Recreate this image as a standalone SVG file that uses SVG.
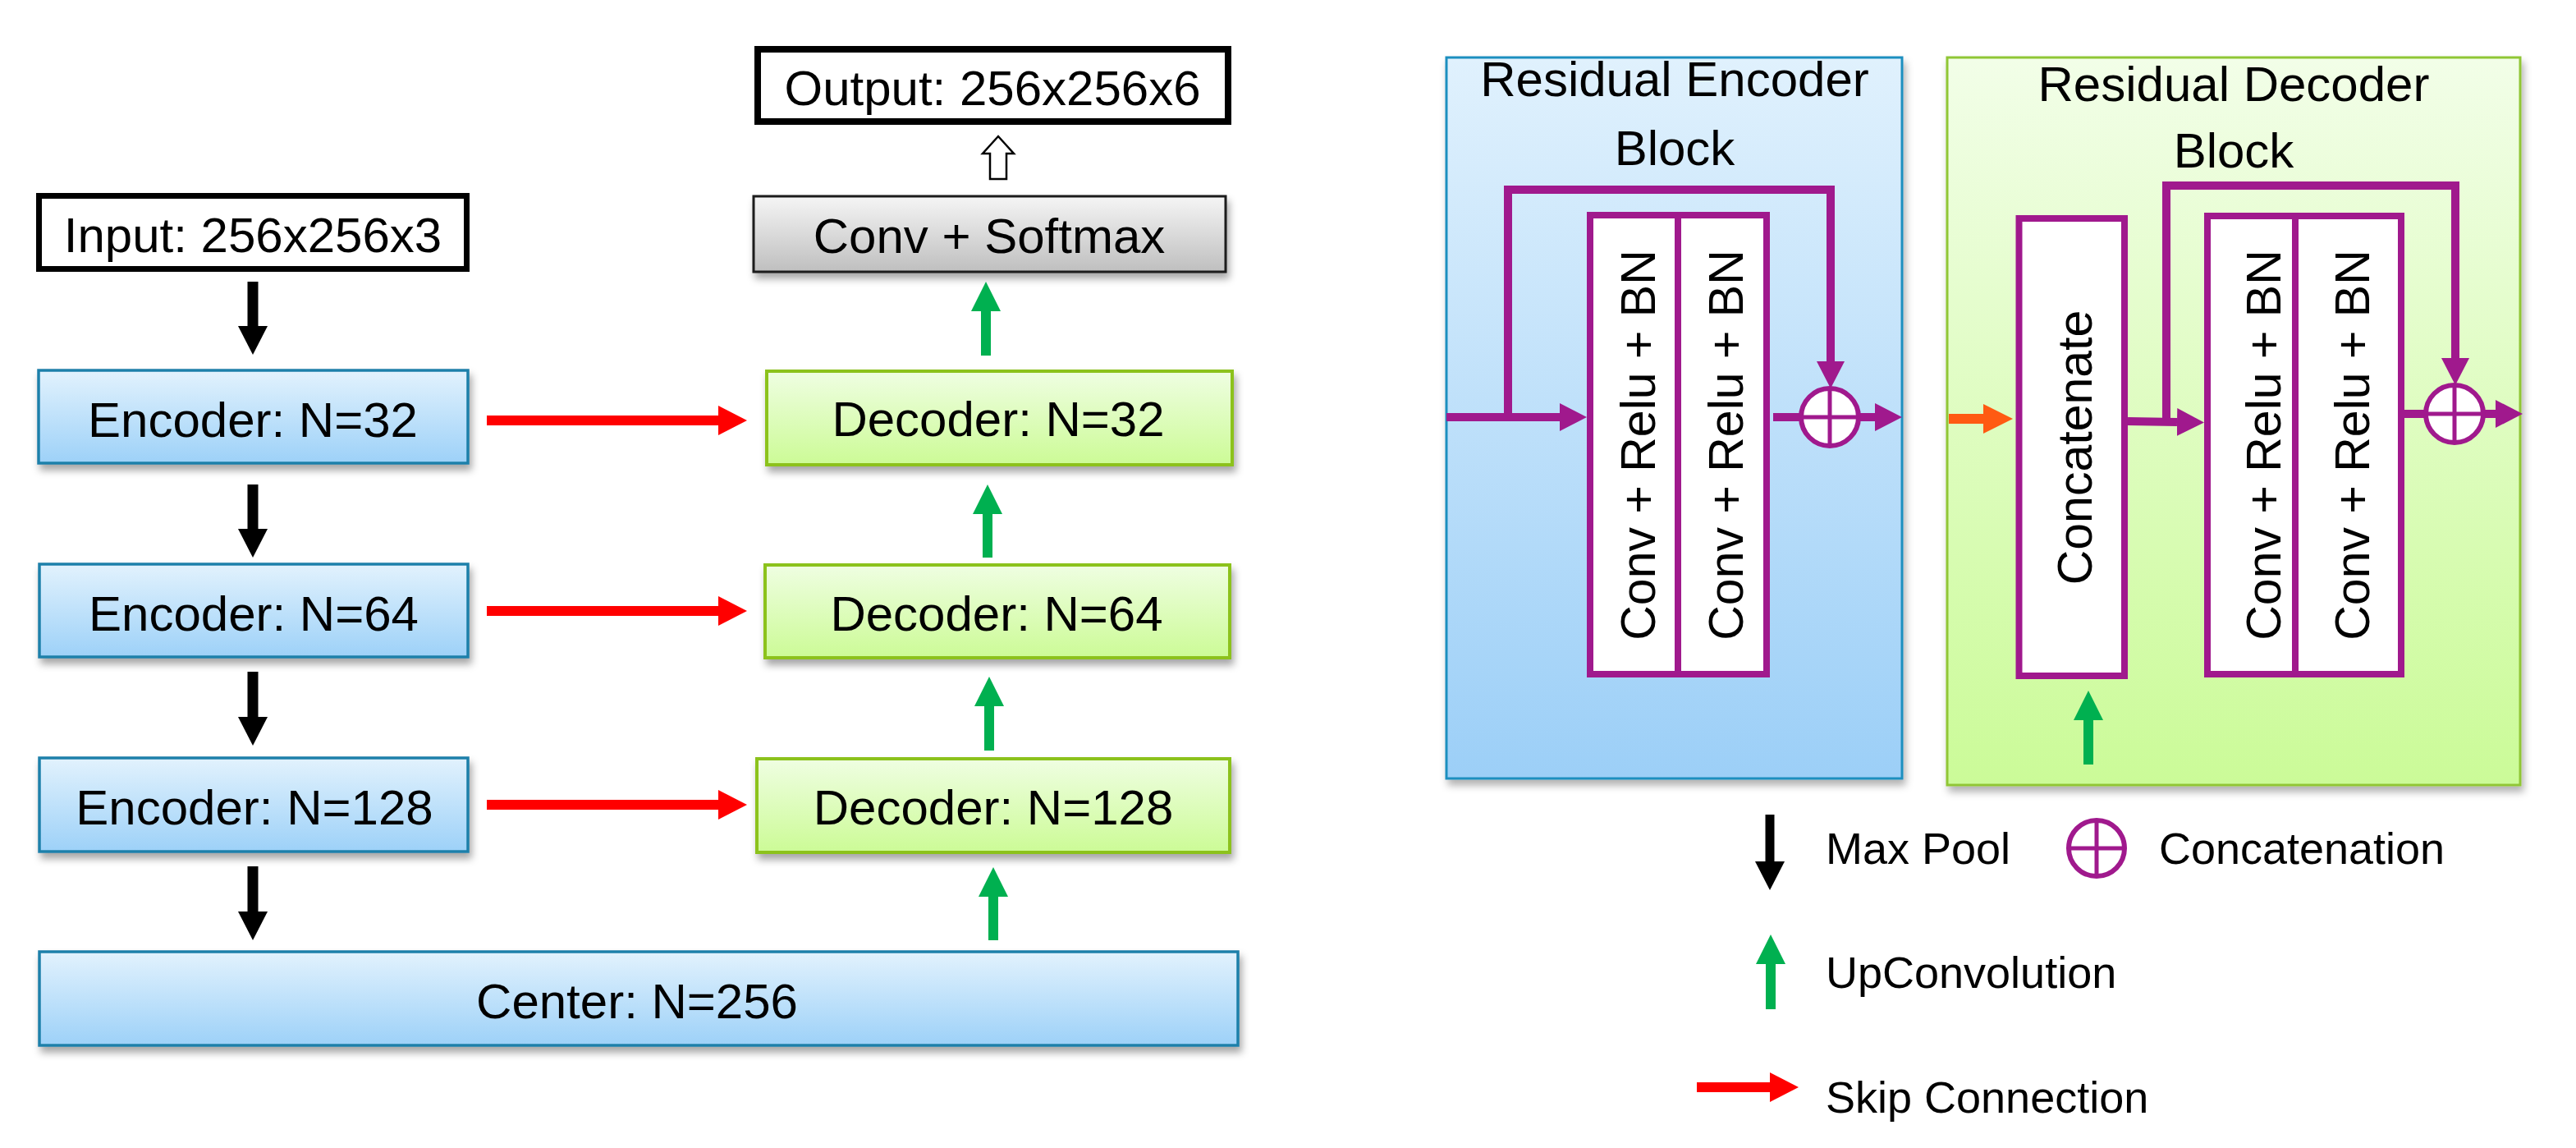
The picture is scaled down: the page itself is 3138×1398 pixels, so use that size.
<svg xmlns="http://www.w3.org/2000/svg" width="3138" height="1398" viewBox="0 0 3138 1398">
<defs>
<style>
text{font-family:"Liberation Sans",Arial,sans-serif;fill:#000}
.lbl{font-size:60px;text-anchor:middle}
.leg{font-size:54px}
.rot{font-size:59px;text-anchor:middle}
.enc{fill:url(#gEnc);stroke:#1f80aa;stroke-width:3.5}
.dec{fill:url(#gDec);stroke:#8cc21e;stroke-width:4}
.io{fill:#fff;stroke:#000}
.pbox{fill:#fff;stroke:#a0198d;stroke-width:8}
.pl{fill:none;stroke:#a0198d;stroke-width:10}
.circ{fill:#fff;stroke:#a0198d;stroke-width:6}
.cross{stroke:#a0198d;stroke-width:5}
.red{stroke:#ff0000;stroke-width:12;fill:none}
.grn{stroke:#00b050;stroke-width:12;fill:none}
.blk{stroke:#000;stroke-width:13;fill:none}
</style>
<linearGradient id="gEnc" x1="0" y1="0" x2="0" y2="1"><stop offset="0" stop-color="#e2f2fd"/><stop offset="1" stop-color="#9dd1f8"/></linearGradient>
<linearGradient id="gDec" x1="0" y1="0" x2="0" y2="1"><stop offset="0" stop-color="#effee2"/><stop offset="1" stop-color="#ccfb96"/></linearGradient>
<linearGradient id="gGray" x1="0" y1="0" x2="0" y2="1"><stop offset="0" stop-color="#f5f5f5"/><stop offset="1" stop-color="#bfbfbf"/></linearGradient>
<linearGradient id="gREnc" x1="0" y1="0" x2="0" y2="1"><stop offset="0" stop-color="#e0f1fd"/><stop offset="1" stop-color="#9ccff7"/></linearGradient>
<linearGradient id="gRDec" x1="0" y1="0" x2="0" y2="1"><stop offset="0" stop-color="#f2fee8"/><stop offset="1" stop-color="#cbfb98"/></linearGradient>
<filter id="shadow" x="-5%" y="-10%" width="112%" height="135%"><feDropShadow dx="3" dy="7" stdDeviation="5" flood-color="#000" flood-opacity="0.35"/></filter>
<filter id="shadowBig" x="-3%" y="-3%" width="108%" height="106%"><feDropShadow dx="3" dy="7" stdDeviation="5" flood-color="#000" flood-opacity="0.3"/></filter>
<marker id="mkBlack" markerUnits="userSpaceOnUse" markerWidth="40" markerHeight="40" viewBox="0 -20 40 40" refX="0" refY="0" orient="auto"><path d="M0,-18 L35,0 L0,18 Z" fill="#000"/></marker>
<marker id="mkGreen" markerUnits="userSpaceOnUse" markerWidth="40" markerHeight="40" viewBox="0 -20 40 40" refX="0" refY="0" orient="auto"><path d="M0,-18 L36,0 L0,18 Z" fill="#00b050"/></marker>
<marker id="mkRed" markerUnits="userSpaceOnUse" markerWidth="40" markerHeight="40" viewBox="0 -20 40 40" refX="0" refY="0" orient="auto"><path d="M0,-18 L35,0 L0,18 Z" fill="#ff0000"/></marker>
<marker id="mkPurple" markerUnits="userSpaceOnUse" markerWidth="40" markerHeight="40" viewBox="0 -20 40 40" refX="0" refY="0" orient="auto"><path d="M0,-17 L33,0 L0,17 Z" fill="#a0198d"/></marker>
<marker id="mkOrange" markerUnits="userSpaceOnUse" markerWidth="40" markerHeight="40" viewBox="0 -20 40 40" refX="0" refY="0" orient="auto"><path d="M0,-18 L36,0 L0,18 Z" fill="#ff5a12"/></marker>
</defs>
<rect width="3138" height="1398" fill="#fff"/>

<!-- Left network -->
<g id="input"><rect class="io" x="47.5" y="238.5" width="521" height="89" stroke-width="7"/><text class="lbl" x="308" y="307">Input: 256x256x3</text></g>
<g id="output"><rect class="io" x="923" y="60" width="573" height="88" stroke-width="8"/><text class="lbl" x="1209" y="128">Output: 256x256x6</text></g>
<g id="conv-softmax"><rect x="918" y="239" width="575" height="92" fill="url(#gGray)" stroke="#1a1a1a" stroke-width="3" filter="url(#shadow)"/><text class="lbl" x="1205" y="308">Conv + Softmax</text></g>
<g id="enc32"><rect class="enc" x="47" y="451" width="523" height="113" filter="url(#shadow)"/><text class="lbl" x="308" y="532">Encoder: N=32</text></g>
<g id="enc64"><rect class="enc" x="48" y="687" width="522" height="113" filter="url(#shadow)"/><text class="lbl" x="309" y="768">Encoder: N=64</text></g>
<g id="enc128"><rect class="enc" x="48" y="923" width="522" height="114" filter="url(#shadow)"/><text class="lbl" x="310" y="1004">Encoder: N=128</text></g>
<g id="center"><rect class="enc" x="48" y="1159" width="1460" height="114" filter="url(#shadow)"/><text class="lbl" x="776" y="1240">Center: N=256</text></g>
<g id="dec32"><rect class="dec" x="934" y="452" width="567" height="114" filter="url(#shadow)"/><text class="lbl" x="1216" y="531">Decoder: N=32</text></g>
<g id="dec64"><rect class="dec" x="932" y="688" width="566" height="113" filter="url(#shadow)"/><text class="lbl" x="1214" y="768">Decoder: N=64</text></g>
<g id="dec128"><rect class="dec" x="922" y="924" width="576" height="114" filter="url(#shadow)"/><text class="lbl" x="1210" y="1004">Decoder: N=128</text></g>

<!-- Residual Encoder Block -->
<g id="res-encoder">
<rect x="1762" y="70" width="555" height="878" fill="url(#gREnc)" stroke="#1e8fbf" stroke-width="3" filter="url(#shadowBig)"/>
<text class="lbl" x="2040" y="117">Residual Encoder</text>
<text class="lbl" x="2040" y="201">Block</text>
<rect class="pbox" x="1937" y="262" width="215" height="559"/>
<line x1="2044" y1="262" x2="2044" y2="821" stroke="#a0198d" stroke-width="8"/>
<text class="rot" transform="translate(2016,542) rotate(-90)">Conv + Relu + BN</text>
<text class="rot" transform="translate(2123,542) rotate(-90)">Conv + Relu + BN</text>
</g>

<!-- Residual Decoder Block -->
<g id="res-decoder">
<rect x="2372" y="70" width="698" height="886" fill="url(#gRDec)" stroke="#90c636" stroke-width="3" filter="url(#shadowBig)"/>
<text class="lbl" x="2721" y="123">Residual Decoder</text>
<text class="lbl" x="2721" y="204">Block</text>
<rect class="pbox" x="2459.5" y="266" width="128.5" height="557"/>
<text class="rot" transform="translate(2548,545) rotate(-90)">Concatenate</text>
<rect class="pbox" x="2689" y="263" width="236" height="558"/>
<line x1="2796" y1="263" x2="2796" y2="821" stroke="#a0198d" stroke-width="8"/>
<text class="rot" transform="translate(2778,542) rotate(-90)">Conv + Relu + BN</text>
<text class="rot" transform="translate(2886,542) rotate(-90)">Conv + Relu + BN</text>
</g>

<g id="connectors">
<!-- max pool -->
<line class="blk" x1="308" y1="343" x2="308" y2="397" marker-end="url(#mkBlack)"/>
<line class="blk" x1="308" y1="590" x2="308" y2="644" marker-end="url(#mkBlack)"/>
<line class="blk" x1="308" y1="818" x2="308" y2="873" marker-end="url(#mkBlack)"/>
<line class="blk" x1="308" y1="1055" x2="308" y2="1110" marker-end="url(#mkBlack)"/>
<!-- skip -->
<line class="red" x1="593" y1="512" x2="875" y2="512" marker-end="url(#mkRed)"/>
<line class="red" x1="593" y1="744" x2="875" y2="744" marker-end="url(#mkRed)"/>
<line class="red" x1="593" y1="980" x2="875" y2="980" marker-end="url(#mkRed)"/>
<!-- upconv -->
<line class="grn" x1="1201" y1="433" x2="1201" y2="379" marker-end="url(#mkGreen)"/>
<line class="grn" x1="1203" y1="679" x2="1203" y2="626" marker-end="url(#mkGreen)"/>
<line class="grn" x1="1205" y1="914" x2="1205" y2="860" marker-end="url(#mkGreen)"/>
<line class="grn" x1="1210" y1="1145" x2="1210" y2="1092" marker-end="url(#mkGreen)"/>
<!-- hollow arrow to output -->
<polygon points="1216,166 1235,187 1226,187 1226,218 1206,218 1206,187 1197,187" fill="#fff" stroke="#000" stroke-width="2.5" stroke-linejoin="miter"/>

<!-- residual encoder internals -->
<line class="pl" x1="1762" y1="508" x2="1900" y2="508" marker-end="url(#mkPurple)"/>
<polyline class="pl" points="1837,508 1837,231 2230,231 2230,440" marker-end="url(#mkPurple)"/>
<line class="pl" x1="2160" y1="508" x2="2284" y2="508" marker-end="url(#mkPurple)"/>
<circle class="circ" cx="2229" cy="508" r="35"/>
<line class="cross" x1="2229" y1="473" x2="2229" y2="543"/>
<line class="cross" x1="2194" y1="508" x2="2264" y2="508"/>

<!-- residual decoder internals -->
<line x1="2374" y1="510" x2="2416" y2="510" stroke="#ff5a12" stroke-width="12" marker-end="url(#mkOrange)"/>
<line class="grn" x1="2544" y1="931" x2="2544" y2="877" marker-end="url(#mkGreen)"/>
<line class="pl" x1="2592" y1="513" x2="2652" y2="514" marker-end="url(#mkPurple)"/>
<polyline class="pl" points="2639,513 2639,226 2991,226 2991,436" marker-end="url(#mkPurple)"/>
<line class="pl" x1="2929" y1="504" x2="3040" y2="504" marker-end="url(#mkPurple)"/>
<circle class="circ" cx="2990" cy="504" r="35"/>
<line class="cross" x1="2990" y1="469" x2="2990" y2="539"/>
<line class="cross" x1="2955" y1="504" x2="3025" y2="504"/>
</g>

<!-- Legend -->
<g id="legend">
<line x1="2156" y1="992" x2="2156" y2="1049" stroke="#000" stroke-width="11" marker-end="url(#mkBlack)"/>
<text class="leg" x="2224" y="1052">Max Pool</text>
<circle class="circ" cx="2554" cy="1033" r="34"/>
<line class="cross" x1="2554" y1="999" x2="2554" y2="1067"/>
<line class="cross" x1="2520" y1="1033" x2="2588" y2="1033"/>
<text class="leg" x="2630" y="1052" textLength="348" lengthAdjust="spacingAndGlyphs">Concatenation</text>
<line class="grn" x1="2157" y1="1229" x2="2157" y2="1174" marker-end="url(#mkGreen)"/>
<text class="leg" x="2224" y="1203">UpConvolution</text>
<line class="red" x1="2067" y1="1324" x2="2156" y2="1324" marker-end="url(#mkRed)"/>
<text class="leg" x="2224" y="1355">Skip Connection</text>
</g>
</svg>
